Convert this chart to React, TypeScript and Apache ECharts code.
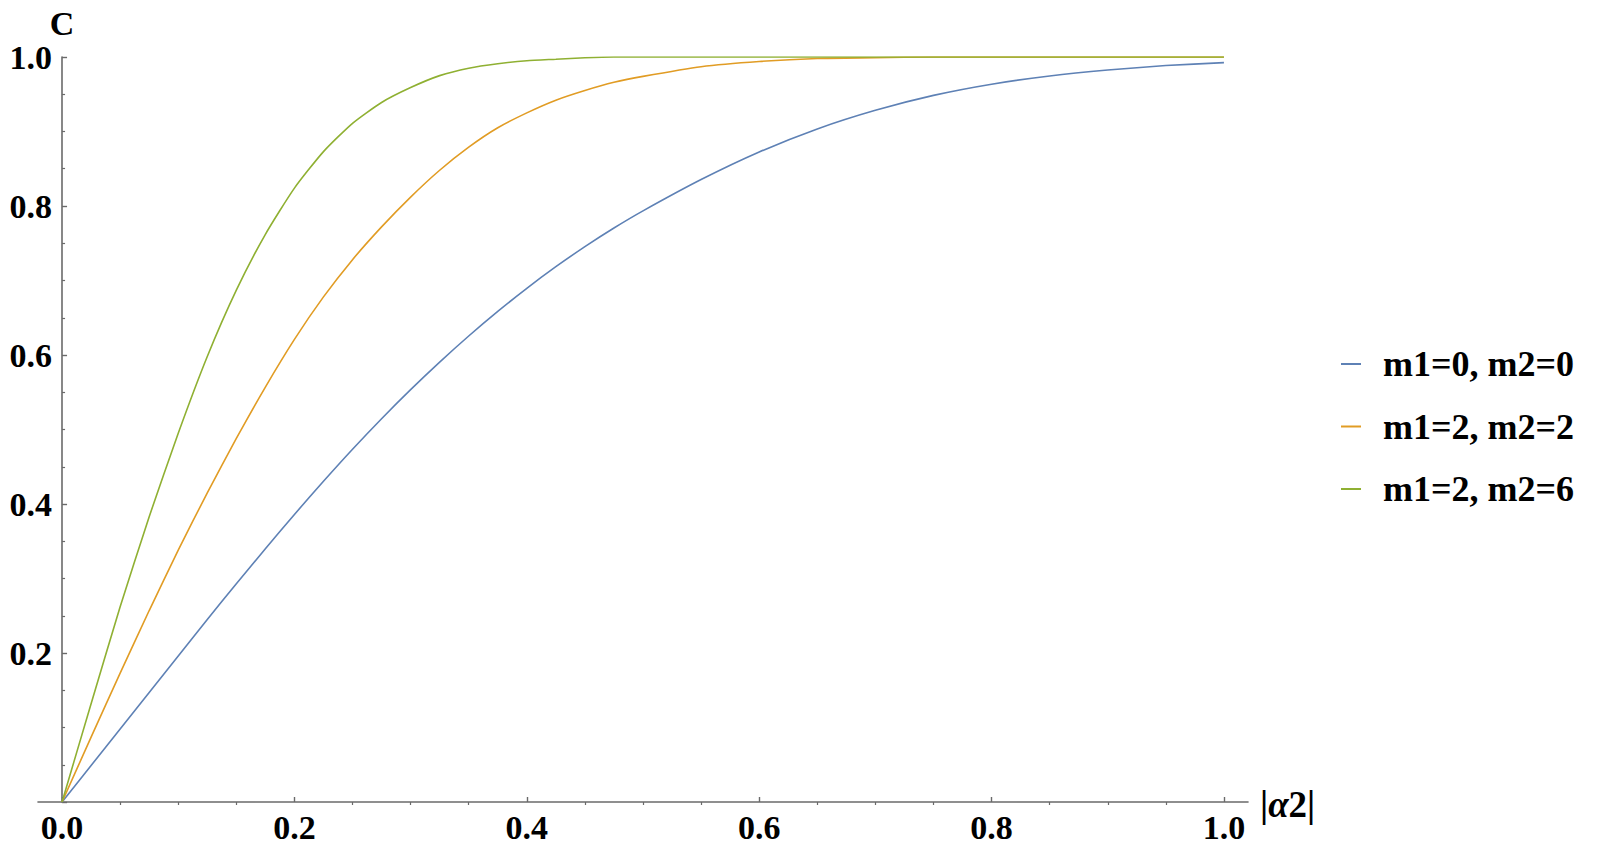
import React, { useEffect, useRef } from "react";
import * as echarts from "echarts";

const xs = [0, 0.025, 0.05, 0.075, 0.1, 0.125, 0.15, 0.175, 0.2, 0.225, 0.25, 0.275, 0.3, 0.325, 0.35, 0.375, 0.4, 0.425, 0.45, 0.475, 0.5, 0.55, 0.6, 0.65, 0.7, 0.75, 0.8, 0.85, 0.9, 0.95, 1.0];
const blueC = [0, 0.049, 0.098, 0.147, 0.196, 0.245, 0.293, 0.34, 0.386, 0.4305, 0.4735, 0.5145, 0.5535, 0.5905, 0.6255, 0.6585, 0.6895, 0.7185, 0.7455, 0.7705, 0.7935, 0.8355, 0.8725, 0.9035, 0.9285, 0.9485, 0.9635, 0.9745, 0.9825, 0.9885, 0.9925];
const orangeC = [0, 0.087, 0.173, 0.257, 0.338, 0.415, 0.488, 0.557, 0.621, 0.678, 0.728, 0.772, 0.812, 0.848, 0.879, 0.905, 0.925, 0.942, 0.955, 0.966, 0.974, 0.987, 0.994, 0.998, 0.999, 1.0, 1.0, 1.0, 1.0, 1.0, 1.0];
const greenC = [0, 0.132, 0.262, 0.383, 0.495, 0.598, 0.687, 0.762, 0.824, 0.873, 0.911, 0.939, 0.959, 0.975, 0.985, 0.991, 0.995, 0.997, 0.999, 1.0, 1.0, 1.0, 1.0, 1.0, 1.0, 1.0, 1.0, 1.0, 1.0, 1.0, 1.0];
const seriesNames = ["m1=0, m2=0", "m1=2, m2=2", "m1=2, m2=6"];
const seriesColors = ["#5E81B5", "#E19C24", "#8FB032"];
const xMajorTicks = [0, 0.2, 0.4, 0.6, 0.8, 1.0];
const xMinorTicks = [0.05, 0.1, 0.15, 0.25, 0.3, 0.35, 0.45, 0.5, 0.55, 0.65, 0.7, 0.75, 0.85, 0.9, 0.95];

const FONT = "'Liberation Serif', 'Times New Roman', serif";
const AXIS_COLOR = "#6a6a6a";

export default function App() {
  const ref = useRef<HTMLDivElement>(null);
  useEffect(() => {
    if (!ref.current) return;
    const chart = echarts.init(ref.current, undefined, { renderer: "svg" });
    const values = [blueC, orangeC, greenC];
    const xMin = -0.0207;
    const xMax = 1.0207;
    chart.setOption({
      animation: false,
      backgroundColor: "#ffffff",
      grid: { left: 38, top: 57, width: 1210, height: 745, outerBoundsMode: "none", containLabel: false },
      legend: {
        orient: "vertical",
        left: 1336,
        top: 341,
        itemWidth: 20,
        itemHeight: 2,
        itemGap: 26.5,
        icon: "rect",
        data: seriesNames,
        textStyle: {
          fontFamily: FONT,
          fontWeight: "bold",
          fontSize: 36,
          color: "#000",
          padding: [0, 0, 0, 17],
        },
      },
      xAxis: [
        {
          type: "value",
          min: xMin,
          max: xMax,
          name: "{n||}{a|α}{n|2|}",
          nameLocation: "end",
          nameGap: 12,
          nameTextStyle: {
            rich: {
              n: { fontFamily: FONT, fontWeight: "bold", fontSize: 37, color: "#000" },
              a: { fontFamily: FONT, fontStyle: "italic", fontWeight: "bold", fontSize: 37, color: "#000" },
            },
            verticalAlign: "top",
            padding: [-16, 0, 0, 0],
          },
          splitLine: { show: false },
          axisLine: { show: true, onZero: false, lineStyle: { color: AXIS_COLOR, width: 1.6 } },
          axisTick: { show: true, inside: true, length: 5, customValues: xMajorTicks, lineStyle: { color: AXIS_COLOR, width: 1.4 } },
          axisLabel: {
            customValues: xMajorTicks,
            formatter: (v: number) => v.toFixed(1),
            fontFamily: FONT,
            fontWeight: "bold",
            fontSize: 34,
            color: "#000",
            margin: 8,
          },
        },
        {
          type: "value",
          min: xMin,
          max: xMax,
          splitLine: { show: false },
          axisLine: { show: false },
          axisTick: { show: true, inside: true, length: 3, customValues: xMinorTicks, lineStyle: { color: AXIS_COLOR, width: 1.2 } },
          axisLabel: { show: false },
        },
      ],
      yAxis: {
        type: "value",
        min: 0,
        max: 1,
        interval: 0.2,
        name: "C",
        nameLocation: "end",
        nameGap: 6,
        nameTextStyle: {
          fontFamily: FONT,
          fontWeight: "bold",
          fontSize: 34,
          color: "#000",
          align: "center",
          verticalAlign: "bottom",
          padding: [0, 0, -6, 0],
        },
        splitLine: { show: false },
        axisLine: { show: true, onZero: true, lineStyle: { color: AXIS_COLOR, width: 1.6 } },
        axisTick: { show: true, inside: true, length: 5, lineStyle: { color: AXIS_COLOR, width: 1.4 } },
        minorTick: { show: true, splitNumber: 4, length: 3, lineStyle: { color: AXIS_COLOR, width: 1.2 } },
        minorSplitLine: { show: false },
        axisLabel: {
          formatter: (v: number) => (v === 0 ? "" : v.toFixed(1)),
          fontFamily: FONT,
          fontWeight: "bold",
          fontSize: 34,
          color: "#000",
          margin: -14,
        },
      },
      series: seriesNames.map((name, i) => ({
        name,
        type: "line",
        xAxisIndex: 0,
        data: xs.map((x, j) => [x, values[i][j]]),
        showSymbol: false,
        smooth: 0.2,
        lineStyle: { color: seriesColors[i], width: 1.6 },
        itemStyle: { color: seriesColors[i] },
      })),
    });
    return () => chart.dispose();
  }, []);
  return <div ref={ref} style={{ position: "fixed", left: 0, top: 0, width: 1609, height: 851 }} />;
}
